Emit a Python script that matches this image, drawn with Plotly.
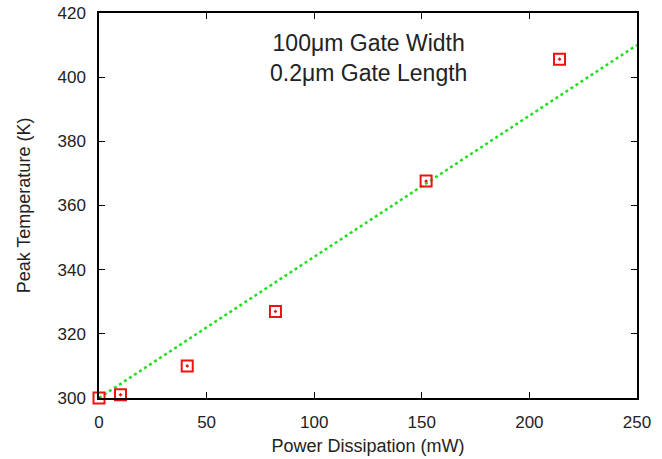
import plotly.graph_objects as go

power_mw = [0, 10, 41, 82, 152, 214]
peak_temp_k = [300, 301, 310, 327, 367.6, 405.6]
fit_x = [0, 250]
fit_y = [300, 410]
x_ticks = [0, 50, 100, 150, 200, 250]
y_ticks = [300, 320, 340, 360, 380, 400, 420]

FONT = "Liberation Sans, Arial, Helvetica, sans-serif"

fig = go.Figure()
fig.add_trace(go.Scatter(x=fit_x, y=fit_y, mode="lines",
                         line=dict(color="#22dd22", width=2.5, dash="dot"),
                         showlegend=False))
fig.add_trace(go.Scatter(x=power_mw, y=peak_temp_k, mode="markers",
                         marker=dict(symbol="square-open-dot", size=11, color="#ee1111",
                                     line=dict(width=2, color="#ee1111")),
                         cliponaxis=False, showlegend=False))

fig.add_annotation(x=0.5, xref="paper", y=0.884, yref="paper", yanchor="middle",
                   text="100\u03bcm Gate Width<br>0.2\u03bcm Gate Length",
                   showarrow=False, align="center",
                   font=dict(family=FONT, size=23, color="#222222"))

axis_common = dict(showgrid=False, zeroline=False, showline=True, linecolor="black",
                   linewidth=1.5, mirror="ticks", ticks="inside", ticklen=6,
                   tickcolor="black", automargin=False,
                   tickfont=dict(family=FONT, size=17, color="#222222"))
fig.update_xaxes(range=[0, 250], tickvals=x_ticks, ticklabelstandoff=8,
                 title=dict(text="Power Dissipation (mW)", font=dict(family=FONT, size=18, color="#222222"), standoff=8),
                 **axis_common)
fig.update_yaxes(range=[300, 420], tickvals=y_ticks, ticklabelstandoff=8,
                 title=dict(text="Peak Temperature (K)", font=dict(family=FONT, size=18, color="#222222"), standoff=22),
                 **axis_common)
fig.update_layout(width=662, height=459, plot_bgcolor="white", paper_bgcolor="white",
                  margin=dict(l=99, r=25, t=13, b=61),
                  font=dict(family=FONT))
fig.write_html("out.html", config={"displayModeBar": False},
               post_script="document.body.style.margin='0';document.body.style.overflow='hidden';")
